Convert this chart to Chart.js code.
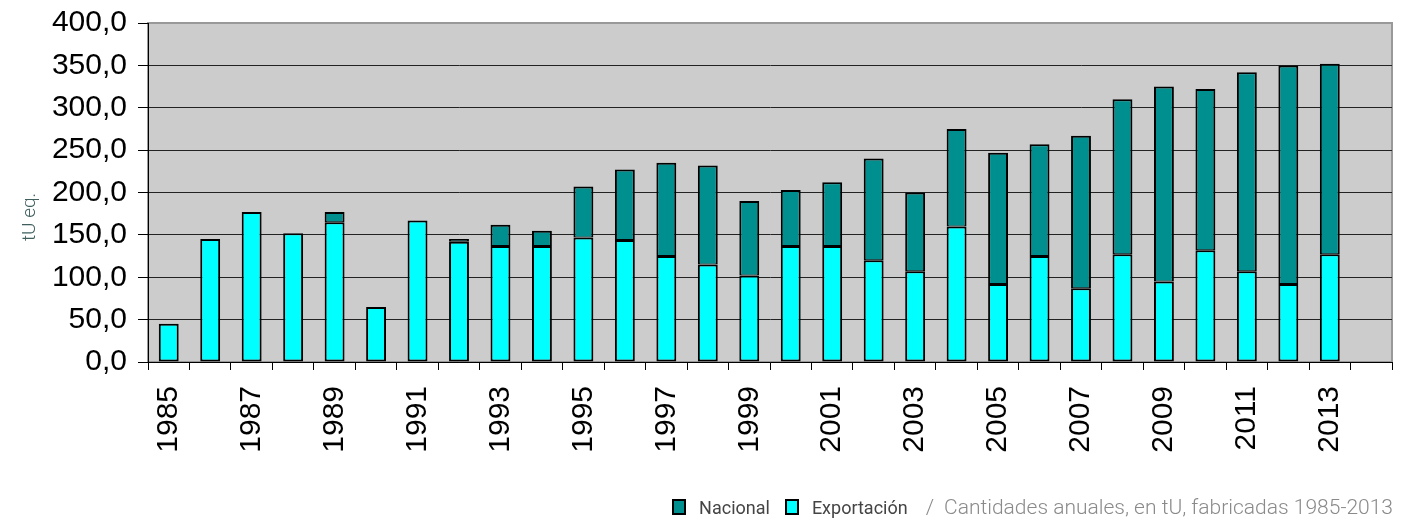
<!DOCTYPE html>
<html>
<head>
<meta charset="utf-8">
<script src="https://cdn.jsdelivr.net/npm/chart.js@4.4.0/dist/chart.umd.min.js"></script>
<style>
  html, body { margin: 0; padding: 0; background: #fff; }
  #wrap { position: relative; width: 1405px; height: 523px; }
  #foot {
    position: absolute; right: 12px; top: 494px; height: 26px;
    display: flex; align-items: center; white-space: nowrap;
    font-family: Roboto, sans-serif;
  }
  .item { display: flex; align-items: center; color: #444; font-size: 18px; margin-right: 15px; }
  .box { width: 10px; height: 12px; border: 2px solid #000; margin-right: 13px; }
  .cap { color: #8a8a8a; font-size: 21px; font-weight: 300; }
  .slash { color: #8a8a8a; font-size: 21px; font-weight: 300; margin: 0 10px 0 3px; }
</style>
</head>
<body>
<div id="wrap">
  <canvas id="myChart"></canvas>
  <div id="foot"></div>
</div>
<script>
const years = [];
for (let y = 1985; y <= 2014; y++) years.push(String(y));

// tU eq. por año (2014 vacío)
const exportacion = [45, 145, 177, 152, 165, 65, 167, 142, 137, 137,
                     147, 144, 125, 115, 102, 137, 137, 120, 107, 160,
                     92, 125, 87, 127, 95, 132, 107, 92, 127, null];
const nacional = [null, null, null, null, 12, null, null, 3, 25, 18,
                  60, 83, 110, 117, 88, 66, 75, 120, 93, 115,
                  155, 132, 180, 183, 230, 190, 235, 258, 225, null];

const yTicks = [0, 50, 100, 150, 200, 250, 300, 350, 400];
const yTitle = 'tU eq.';
const caption = 'Cantidades anuales, en tU, fabricadas 1985-2013';

const plotBg = {
    id: 'plotBg',
    beforeDraw(chart) {
        const { ctx, chartArea: a } = chart;
        ctx.save();
        ctx.fillStyle = '#cccccc';
        ctx.fillRect(a.left, a.top, a.right - a.left, a.bottom - a.top);
        ctx.strokeStyle = '#999999';
        ctx.lineWidth = 2;
        ctx.strokeRect(a.left, a.top, a.right - a.left, a.bottom - a.top);
        ctx.restore();
    },
    afterDraw(chart) {
        // título del eje Y
        const ctx = chart.ctx;
        ctx.save();
        ctx.translate(30, 217);
        ctx.rotate(-Math.PI / 2);
        ctx.fillStyle = '#3f5f5f';
        ctx.font = '300 19px Roboto, sans-serif';
        ctx.textAlign = 'center';
        ctx.textBaseline = 'middle';
        ctx.fillText(yTitle, 0, 0);
        ctx.restore();
    }
};

const ctx = document.getElementById('myChart').getContext('2d');

const chart = new Chart(ctx, {
    type: 'bar',
    data: {
        labels: years,
        datasets: [{
            label: 'Exportación',
            data: exportacion,
            backgroundColor: '#00ffff',
            borderColor: '#000',
            borderWidth: 2,
            borderSkipped: false
        }, {
            label: 'Nacional',
            data: nacional,
            backgroundColor: '#008f8f',
            borderColor: '#000',
            borderWidth: { top: 2, left: 2, right: 2, bottom: 1 },
            borderSkipped: false
        }]
    },
    options: {
        responsive: true,
        maintainAspectRatio: false,
        animation: false,
        layout: { padding: { top: 23, right: 13, left: 0, bottom: 0 } },
        datasets: { bar: { categoryPercentage: 1, barPercentage: 0.48 } },
        plugins: { legend: { display: false }, tooltip: { enabled: false } },
        scales: {
            x: {
                stacked: true,
                grid: { drawOnChartArea: false, tickLength: 8, color: '#000', offset: true },
                border: { color: '#000', width: 1 },
                ticks: {
                    autoSkip: false, minRotation: 90, maxRotation: 90, padding: 16,
                    color: '#000',
                    font: { family: '"Liberation Sans", Arial, sans-serif', size: 30, lineHeight: 1 },
                    callback: function (v, i) { return i % 2 === 0 ? this.getLabelForValue(v) : ''; }
                },
                afterFit: s => { s.height = 161; s.paddingRight = 0; s.paddingLeft = 0; }
            },
            y: {
                stacked: true,
                min: 0, max: 400,
                afterBuildTicks: s => { s.ticks = yTicks.map(v => ({ value: v })); },
                grid: {
                    color: c => (c.tick && c.tick.value === 400) ? '#999999' : '#222222',
                    tickColor: '#000', tickLength: 10, lineWidth: 1
                },
                border: { color: '#000', width: 1 },
                ticks: {
                    padding: 11, color: '#000',
                    font: { family: '"Liberation Sans", Arial, sans-serif', size: 30, lineHeight: 1 },
                    callback: v => v.toFixed(1).replace('.', ',')
                },
                afterFit: s => { s.width = 148; s.paddingTop = 0; s.paddingBottom = 0; }
            }
        }
    },
    plugins: [plotBg]
});

// pie: leyenda + título
const foot = document.getElementById('foot');
[chart.data.datasets[1], chart.data.datasets[0]].forEach(ds => {
    const it = document.createElement('span');
    it.className = 'item';
    const b = document.createElement('span');
    b.className = 'box';
    b.style.background = ds.backgroundColor;
    it.appendChild(b);
    it.appendChild(document.createTextNode(ds.label));
    foot.appendChild(it);
});
const sl = document.createElement('span');
sl.className = 'slash';
sl.textContent = '/';
foot.appendChild(sl);
const cp = document.createElement('span');
cp.className = 'cap';
cp.textContent = caption;
foot.appendChild(cp);
</script>
</body>
</html>
